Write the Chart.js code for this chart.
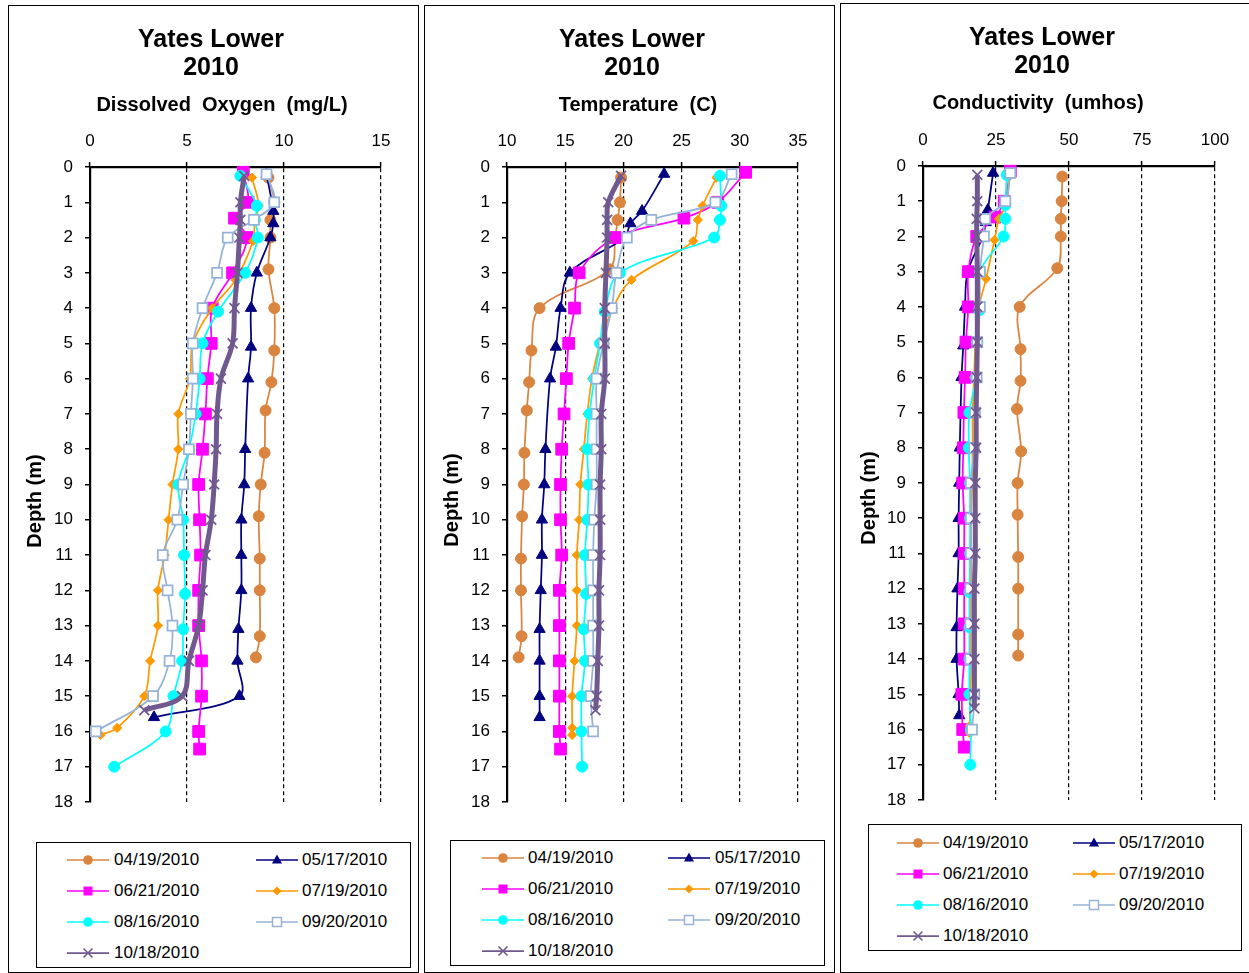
<!DOCTYPE html>
<html><head><meta charset="utf-8">
<script src="https://cdn.jsdelivr.net/npm/chart.js@4"></script>
<style>
body{margin:0;width:1249px;height:973px;background:#fff;position:relative;overflow:hidden;font-family:"Liberation Sans",Arial,sans-serif}
.panel{position:absolute;border:1.5px solid #000;box-sizing:border-box}
canvas{position:absolute}
.legend{position:absolute;border:1.5px solid #000;box-sizing:border-box;background:#fff}
.item{position:absolute;height:22px;font-size:17px;line-height:22px;color:#000;white-space:nowrap}
.item svg{position:absolute;top:0}
</style></head><body>
<script>
// ---------- DATA ----------
const seriesLabels = ['04/19/2010','05/17/2010','06/21/2010','07/19/2010','08/16/2010','09/20/2010','10/18/2010'];

const depth0419 = [0.3, 1.0, 1.5, 2.0, 2.9, 4.0, 5.2, 6.1, 6.9, 8.1, 9.0, 9.9, 11.1, 12.0, 13.3, 13.9];
const do0419    = [9.2, 9.5, 9.3, 9.3, 9.2, 9.5, 9.5, 9.35, 9.05, 9.0, 8.8, 8.7, 8.75, 8.75, 8.75, 8.55];
const temp0419  = [19.8, 19.7, 19.5, 19.3, 18.8, 12.8, 12.1, 11.9, 11.7, 11.5, 11.45, 11.3, 11.2, 11.2, 11.25, 11.0];
const cond0419  = [47.7, 47.5, 47.2, 47.2, 46.0, 33.1, 33.4, 33.4, 32.2, 33.6, 32.4, 32.4, 32.6, 32.6, 32.6, 32.6];

const depth0517 = [0.2, 1.25, 1.6, 2.0, 3.0, 4.0, 5.1, 6.0, 8.0, 9.0, 10.0, 11.0, 12.0, 13.1, 14.0, 15.0, 15.6];
const do0517    = [9.1, 9.45, 9.45, 9.3, 8.6, 8.3, 8.3, 8.15, 8.0, 7.95, 7.8, 7.8, 7.8, 7.65, 7.6, 7.7, 3.3];
const temp0517  = [23.5, 21.6, 20.6, 20.1, 15.4, 14.6, 14.2, 13.7, 13.3, 13.2, 13.0, 13.0, 12.9, 12.8, 12.8, 12.8, 12.8];
const cond0517  = [24.0, 22.2, 21.5, 20.5, 15.3, 14.4, 13.8, 13.2, 12.6, 12.4, 12.2, 12.2, 11.8, 11.5, 11.5, 12.2, 12.4];

const depth0621 = [0.15, 1.0, 1.45, 2.0, 3.0, 4.0, 5.0, 6.0, 7.0, 8.0, 9.0, 10.0, 11.0, 12.0, 13.0, 14.0, 15.0, 16.0, 16.5];
const do0621    = [7.9, 8.15, 7.45, 8.1, 7.35, 6.3, 6.25, 6.05, 5.95, 5.8, 5.6, 5.65, 5.7, 5.6, 5.6, 5.75, 5.75, 5.6, 5.65];
const temp0621  = [30.5, 28.1, 25.2, 19.3, 16.2, 15.8, 15.3, 15.1, 14.9, 14.7, 14.6, 14.6, 14.7, 14.5, 14.5, 14.5, 14.5, 14.5, 14.6];
const cond0621  = [29.9, 27.8, 24.7, 18.4, 15.5, 15.5, 14.7, 14.4, 14.0, 13.8, 13.6, 14.1, 14.1, 14.1, 14.1, 14.1, 13.3, 13.6, 14.1];

const depth0719 = [0.3, 1.1, 1.5, 2.1, 3.2, 4.0, 5.0, 6.0, 7.0, 8.0, 9.0, 10.0, 11.0, 12.0, 13.0, 14.0, 15.0, 15.9, 16.1];
const do0719    = [8.35, 8.7, 8.5, 8.4, 7.5, 6.3, 5.3, 5.15, 4.55, 4.55, 4.25, 4.05, 3.85, 3.5, 3.5, 3.1, 2.8, 1.4, 0.55];
const temp0719  = [28.0, 26.8, 26.4, 26.0, 20.7, 19.1, 18.0, 17.3, 16.9, 16.6, 16.3, 16.2, 16.0, 16.0, 16.0, 15.8, 15.6, 15.6, 15.6];
const cond0719  = [29.5, 28.5, 26.0, 24.5, 21.6, 19.2, 18.0, 17.5, 17.0, 17.0, 16.8, 16.5, 16.5, 16.5, 16.5, 16.5, 16.3, 16.0, 16.0];

const depth0816 = [0.25, 1.1, 1.5, 2.0, 3.0, 4.1, 5.0, 6.0, 7.0, 8.0, 9.0, 10.0, 11.0, 12.1, 13.1, 14.0, 15.0, 16.0, 17.0];
const do0816    = [7.75, 8.6, 8.5, 8.65, 8.0, 6.6, 5.8, 5.65, 5.45, 5.1, 4.55, 4.8, 4.85, 4.9, 4.8, 4.75, 4.3, 3.9, 1.25];
const temp0816  = [28.3, 28.4, 28.3, 27.8, 19.7, 18.4, 18.0, 17.5, 17.1, 16.9, 17.0, 16.9, 16.7, 16.8, 16.6, 16.7, 16.4, 16.4, 16.45];
const cond0816  = [28.7, 28.2, 28.2, 27.6, 19.5, 19.2, 18.6, 18.2, 15.9, 15.7, 16.1, 16.1, 16.1, 15.9, 15.9, 15.9, 15.9, 16.4, 16.2];

const depth0920 = [0.2, 1.0, 1.5, 2.0, 3.0, 4.0, 5.0, 6.0, 7.0, 8.0, 9.0, 10.0, 11.0, 12.0, 13.0, 14.0, 15.0, 16.0];
const do0920    = [9.1, 9.5, 8.45, 7.1, 6.55, 5.8, 5.3, 5.3, 5.2, 5.1, 4.8, 4.5, 3.75, 4.0, 4.25, 4.1, 3.25, 0.3];
const temp0920  = [29.3, 27.9, 22.4, 20.3, 19.4, 19.0, 18.3, 17.7, 17.7, 17.7, 17.7, 17.5, 17.4, 17.4, 17.4, 17.4, 17.2, 17.4];
const cond0920  = [29.9, 28.2, 21.3, 20.9, 19.5, 19.5, 18.6, 18.4, 17.8, 17.5, 16.4, 16.4, 16.4, 16.2, 16.2, 16.2, 17.6, 16.8];

const depth1018 = [0.25, 1.0, 1.5, 2.0, 3.0, 4.0, 5.0, 6.0, 7.0, 8.0, 9.0, 10.0, 11.0, 12.0, 13.0, 14.0, 15.0, 15.4];
const do1018    = [7.95, 7.75, 7.75, 7.7, 7.6, 7.45, 7.35, 6.75, 6.55, 6.5, 6.4, 6.25, 5.95, 5.8, 5.6, 5.1, 4.75, 2.8];
const temp1018  = [19.8, 18.7, 18.6, 18.6, 18.5, 18.4, 18.4, 18.4, 18.1, 18.1, 18.0, 18.0, 18.0, 17.9, 17.9, 17.8, 17.7, 17.6];
const cond1018  = [18.6, 18.6, 18.4, 18.4, 18.6, 18.6, 18.6, 18.4, 18.2, 18.2, 17.9, 17.9, 17.9, 17.6, 17.6, 17.6, 17.6, 17.6];

const depthTicks = {min: 0, max: 18, step: 1};
const doTicks    = {min: 0, max: 15, step: 5};
const tempTicks  = {min: 10, max: 35, step: 5};
const condTicks  = {min: 0, max: 100, step: 25};

// ---------- STYLES ----------
const FONT = '"Liberation Sans", Arial, sans-serif';
const seriesStyles = [
  {color:'#D9843F', fill:'#D9843F', point:'circle',   r:5.5, lw:1.75, pbw:1},
  {color:'#000080', fill:'#000080', point:'triangle', r:6.5, lw:1.75, pbw:1},
  {color:'#FF00FF', fill:'#FF00FF', point:'rect',     r:8.3, lw:1.75, pbw:1},
  {color:'#FF9900', fill:'#FF9900', point:'rectRot',  r:4.6, lw:1.75, pbw:1},
  {color:'#00FFFF', fill:'#00FFFF', point:'circle',   r:5.5, lw:1.75, pbw:1},
  {color:'#95B3D7', fill:'#FFFFFF', point:'rect',     r:7.0, lw:1.75, pbw:1.75},
  {color:'#70598F', fill:'#70598F', point:'crossRot', r:7.0, lw:5,    pbw:1.75}
];
const depthSets = [depth0419, depth0517, depth0621, depth0719, depth0816, depth0920, depth1018];

const panels = [
  {vals:[do0419, do0517, do0621, do0719, do0816, do0920, do1018], ticks:doTicks,
   title:'Dissolved  Oxygen  (mg/L)',
   box:{left:8, top:5, width:411, height:968},
   canvas:{left:8, top:5, w:410, h:830}, area:{left:82, right:373, top:162, bottom:797},
   titleX:203, xTitleX:214, yTitle:{x:27, y:496},
   legend:{left:36, top:842, width:375, height:126, rows:[859,890,921,952], c1:66, t1:113, c2:255, t2:301}},
  {vals:[temp0419, temp0517, temp0621, temp0719, temp0816, temp0920, temp1018], ticks:tempTicks,
   title:'Temperature  (C)',
   box:{left:424, top:5, width:411, height:968},
   canvas:{left:424, top:5, w:410, h:830}, area:{left:83, right:374, top:162, bottom:797},
   titleX:208, xTitleX:214, yTitle:{x:28, y:495},
   legend:{left:450, top:840, width:375, height:126, rows:[857,888,919,950], c1:481, t1:527, c2:667, t2:714}},
  {vals:[cond0419, cond0517, cond0621, cond0719, cond0816, cond0920, cond1018], ticks:condTicks,
   title:'Conductivity  (umhos)',
   box:{left:840, top:3, width:420, height:970},
   canvas:{left:840, top:3, w:409, h:830}, area:{left:83, right:375, top:163, bottom:797},
   titleX:202, xTitleX:198, yTitle:{x:29, y:495},
   legend:{left:868, top:824, width:374, height:127, rows:[842,873,904,935], c1:896, t1:942, c2:1072, t2:1118}}
];

function textPlugin(items){
  return {id:'panelText', afterDraw(chart){
    const ctx = chart.ctx; ctx.save(); ctx.fillStyle='#000';
    ctx.textAlign='center'; ctx.textBaseline='middle';
    for (const t of items){
      ctx.save(); ctx.font = t.font; ctx.translate(t.x, t.y);
      if (t.rot) ctx.rotate(t.rot);
      ctx.fillText(t.text, 0, 0); ctx.restore();
    }
    ctx.restore();
  }};
}

function markerSVG(st, cx, cy){
  const c = st.color;
  switch(st.point){
    case 'circle': return `<circle cx="${cx}" cy="${cy}" r="4.8" fill="${st.fill}"/>`;
    case 'triangle': return `<polygon points="${cx},${cy-5.5} ${cx+5},${cy+3.5} ${cx-5},${cy+3.5}" fill="${st.fill}"/>`;
    case 'rect': if (st.fill === '#FFFFFF') return `<rect x="${cx-4.5}" y="${cy-4.5}" width="9" height="9" fill="#fff" stroke="${c}" stroke-width="1.5"/>`;
      return `<rect x="${cx-4.5}" y="${cy-4.5}" width="9" height="9" fill="${st.fill}"/>`;
    case 'rectRot': return `<polygon points="${cx},${cy-4.5} ${cx+4.5},${cy} ${cx},${cy+4.5} ${cx-4.5},${cy}" fill="${st.fill}"/>`;
    case 'crossRot': return `<path d="M${cx-4.5} ${cy-4.5}L${cx+4.5} ${cy+4.5}M${cx+4.5} ${cy-4.5}L${cx-4.5} ${cy+4.5}" stroke="${c}" stroke-width="1.6"/>`;
  }
  return '';
}

panels.forEach((p, pi) => {
  const box = document.createElement('div'); box.className='panel';
  Object.assign(box.style, {left:p.box.left+'px', top:p.box.top+'px', width:p.box.width+'px', height:p.box.height+'px'});
  document.body.appendChild(box);

  const cv = document.createElement('canvas');
  cv.width = p.canvas.w; cv.height = p.canvas.h;
  Object.assign(cv.style, {left:p.canvas.left+'px', top:p.canvas.top+'px', width:p.canvas.w+'px', height:p.canvas.h+'px'});
  document.body.appendChild(cv);

  const datasets = p.vals.map((vals, si) => {
    const st = seriesStyles[si];
    return {
      label: seriesLabels[si],
      data: depthSets[si].map((d, k) => ({x: vals[k], y: d})),
      showLine: true, tension: 0.35,
      borderColor: st.color, borderWidth: st.lw,
      pointStyle: st.point, pointRadius: st.r, pointHoverRadius: st.r,
      pointBackgroundColor: st.fill, pointBorderColor: st.color, pointBorderWidth: st.pbw,
      clip: false, order: seriesLabels.length - si
    };
  });

  const items = [
    {text:'Yates Lower', x:p.titleX, y:35, font:`bold 25px ${FONT}`},
    {text:'2010', x:p.titleX, y:63, font:`bold 25px ${FONT}`},
    {text:p.title, x:p.xTitleX, y:100, font:`bold 20px ${FONT}`},
    {text:'Depth (m)', x:p.yTitle.x, y:p.yTitle.y, font:`bold 20px ${FONT}`, rot:-Math.PI/2}
  ];

  new Chart(cv, {
    type:'scatter',
    data:{datasets},
    plugins:[textPlugin(items)],
    options:{
      responsive:false, animation:false, devicePixelRatio:1,
      layout:{padding:{left:0, top:0, right:p.canvas.w - p.area.right, bottom:p.canvas.h - p.area.bottom}},
      plugins:{legend:{display:false}, tooltip:{enabled:false}, title:{display:false}},
      scales:{
        x:{type:'linear', position:'top', min:p.ticks.min, max:p.ticks.max,
           ticks:{stepSize:p.ticks.step, color:'#000', font:{family:FONT, size:17}, padding:10, maxRotation:0},
           grid:{color:'#000', lineWidth:1.2, drawTicks:true, tickLength:5, tickColor:'#000', tickWidth:1.5},
           border:{display:true, color:'#000', width:2.2, dash:[4,3]},
           afterFit(s){ s.height = p.area.top; }},
        y:{type:'linear', reverse:true, min:depthTicks.min, max:depthTicks.max,
           ticks:{stepSize:depthTicks.step, color:'#000', font:{family:FONT, size:17}, padding:12},
           grid:{drawOnChartArea:false, drawTicks:true, tickLength:5, color:'#000', lineWidth:1.5},
           border:{display:true, color:'#000', width:2.2},
           afterFit(s){ s.width = p.area.left; }}
      }
    }
  });

  // legend
  const L = p.legend;
  const lg = document.createElement('div'); lg.className='legend';
  Object.assign(lg.style, {left:L.left+'px', top:L.top+'px', width:L.width+'px', height:L.height+'px'});
  document.body.appendChild(lg);
  seriesLabels.forEach((lab, si) => {
    const st = seriesStyles[si];
    const row = Math.floor(si/2), col = si % 2;
    const lineX = (col ? L.c2 : L.c1) - L.left, textX = (col ? L.t2 : L.t1) - L.left;
    const cy = L.rows[row] - L.top;
    const it = document.createElement('div'); it.className='item';
    it.style.left = lineX + 'px'; it.style.top = (cy - 11) + 'px';
    const lw = si === 6 ? 1.75 : 1.5;
    it.innerHTML = `<svg width="44" height="22" style="left:0"><line x1="0" y1="11" x2="42" y2="11" stroke="${st.color}" stroke-width="${lw}"/>${markerSVG(st,21,11)}</svg>` +
      `<span style="position:absolute;left:${textX-lineX}px;top:0">${lab}</span>`;
    lg.appendChild(it);
  });
});
</script>
</body></html>
